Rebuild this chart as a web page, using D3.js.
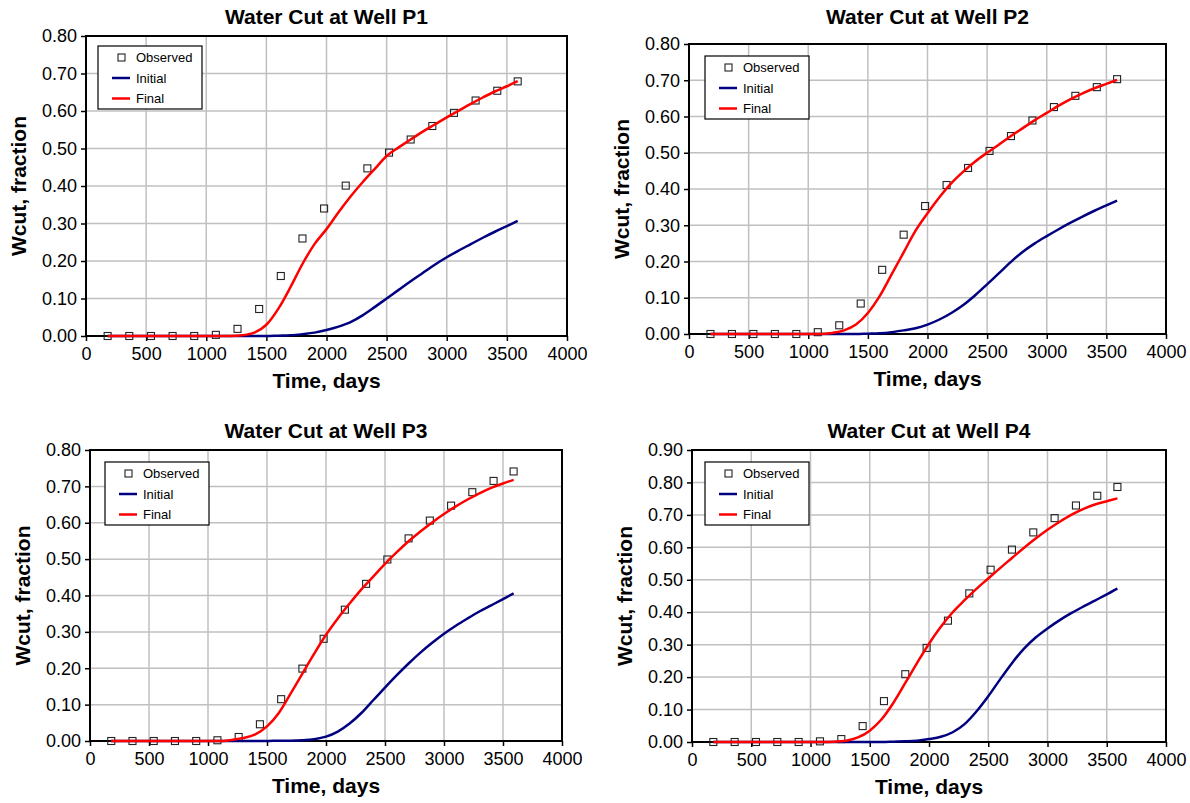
<!DOCTYPE html>
<html>
<head>
<meta charset="utf-8">
<script src="https://cdn.jsdelivr.net/npm/d3@7"></script>
<style>
  body { margin: 0; background: #fff; }
  svg { display: block; font-family: "Liberation Sans", Arial, sans-serif; }
</style>
</head>
<body>
<svg id="chart" width="1190" height="803"></svg>
<script>
// observed water cut, sampled every ~180 days
const obsDays = [180, 360, 540, 720, 900, 1080, 1260, 1440, 1620, 1800, 1980, 2160, 2340, 2520, 2700, 2880, 3060, 3240, 3420, 3590];
const obsP1 = [0, 0, 0, 0, 0, 0.003, 0.019, 0.072, 0.160, 0.260, 0.340, 0.401, 0.447, 0.489, 0.524, 0.560, 0.595, 0.628, 0.654, 0.679];
const obsP2 = [0, 0, 0, 0, 0, 0.005, 0.024, 0.084, 0.177, 0.274, 0.353, 0.411, 0.458, 0.505, 0.546, 0.589, 0.626, 0.657, 0.681, 0.703];
const obsP3 = [0, 0, 0, 0, 0, 0.002, 0.011, 0.046, 0.115, 0.199, 0.281, 0.361, 0.432, 0.499, 0.557, 0.606, 0.647, 0.684, 0.715, 0.741];
const obsP4 = [0, 0, 0, 0, 0, 0.002, 0.009, 0.049, 0.126, 0.209, 0.290, 0.374, 0.458, 0.531, 0.593, 0.646, 0.690, 0.729, 0.759, 0.786];

// simulated curves (initial model / final history-matched model)
const simDays = [180, 1000, 1100, 1200, 1300, 1400, 1500, 1600, 1700, 1800, 1900, 2000, 2100, 2200, 2300, 2400, 2500, 2600, 2700, 2800, 2900, 3000, 3100, 3200, 3300, 3400, 3500, 3590];
const initialP1 = [0, 0, 0, 0, 0, 0, 0, 0.001, 0.002, 0.005, 0.009, 0.016, 0.025, 0.037, 0.055, 0.077, 0.100, 0.123, 0.146, 0.168, 0.190, 0.210, 0.228, 0.245, 0.262, 0.278, 0.293, 0.307];
const finalP1 = [0, 0, 0, 0, 0.002, 0.009, 0.030, 0.073, 0.130, 0.192, 0.245, 0.285, 0.330, 0.372, 0.410, 0.445, 0.480, 0.503, 0.524, 0.545, 0.564, 0.583, 0.601, 0.619, 0.636, 0.652, 0.666, 0.680];
const initialP2 = [0, 0, 0, 0, 0, 0, 0.001, 0.002, 0.005, 0.010, 0.016, 0.026, 0.040, 0.058, 0.080, 0.107, 0.137, 0.168, 0.199, 0.227, 0.250, 0.270, 0.289, 0.307, 0.324, 0.340, 0.355, 0.368];
const finalP2 = [0, 0, 0, 0.003, 0.010, 0.026, 0.058, 0.105, 0.165, 0.225, 0.285, 0.333, 0.377, 0.416, 0.448, 0.476, 0.500, 0.523, 0.546, 0.568, 0.590, 0.610, 0.630, 0.648, 0.664, 0.678, 0.690, 0.701];
const initialP3 = [0, 0, 0, 0, 0, 0, 0, 0.001, 0.001, 0.002, 0.005, 0.012, 0.026, 0.048, 0.077, 0.112, 0.147, 0.181, 0.213, 0.243, 0.270, 0.295, 0.317, 0.337, 0.356, 0.373, 0.390, 0.406];
const finalP3 = [0, 0, 0, 0.003, 0.008, 0.018, 0.040, 0.077, 0.130, 0.185, 0.240, 0.292, 0.337, 0.378, 0.417, 0.452, 0.487, 0.519, 0.549, 0.576, 0.601, 0.624, 0.645, 0.664, 0.681, 0.696, 0.708, 0.718];
const initialP4 = [0, 0, 0, 0, 0, 0, 0, 0, 0.001, 0.002, 0.004, 0.009, 0.016, 0.030, 0.055, 0.094, 0.141, 0.193, 0.243, 0.287, 0.322, 0.350, 0.375, 0.397, 0.417, 0.436, 0.455, 0.473];
const finalP4 = [0, 0, 0, 0.001, 0.004, 0.014, 0.035, 0.070, 0.121, 0.182, 0.244, 0.303, 0.355, 0.400, 0.437, 0.472, 0.504, 0.536, 0.567, 0.598, 0.627, 0.654, 0.678, 0.700, 0.718, 0.732, 0.742, 0.751];

const wellNames = ['P1', 'P2', 'P3', 'P4'];
const xTicks = [0, 500, 1000, 1500, 2000, 2500, 3000, 3500, 4000];
const yTicks8 = [0, 0.1, 0.2, 0.3, 0.4, 0.5, 0.6, 0.7, 0.8];
const yTicks9 = [0, 0.1, 0.2, 0.3, 0.4, 0.5, 0.6, 0.7, 0.8, 0.9];
const legendLabels = ['Observed', 'Initial', 'Final'];

// layout of the four plot areas (pixels)
const panels = [
  { obs: obsP1, init: initialP1, fin: finalP1, yTicks: yTicks8, left: 86, right: 567, top: 36, bottom: 336, titleY: 24, lx: 98, ly: 46 },
  { obs: obsP2, init: initialP2, fin: finalP2, yTicks: yTicks8, left: 689, right: 1166, top: 44, bottom: 334, titleY: 24, lx: 705, ly: 56 },
  { obs: obsP3, init: initialP3, fin: finalP3, yTicks: yTicks8, left: 90, right: 562, top: 450, bottom: 741, titleY: 438, lx: 105, ly: 462 },
  { obs: obsP4, init: initialP4, fin: finalP4, yTicks: yTicks9, left: 692, right: 1166, top: 450, bottom: 742, titleY: 438, lx: 705, ly: 462 }
];

const svg = d3.select('#chart');
const gridColor = '#c0c0c0';
const initColor = '#000080';
const finalColor = '#ff0000';

panels.forEach((p, i) => {
  const g = svg.append('g');
  const x = d3.scaleLinear().domain([0, 4000]).range([p.left, p.right]);
  const y = d3.scaleLinear().domain([0, d3.max(p.yTicks)]).range([p.bottom, p.top]);

  // gridlines
  g.append('g').selectAll('line')
    .data(xTicks.slice(1, -1))
    .join('line')
    .attr('x1', d => x(d)).attr('x2', d => x(d))
    .attr('y1', p.top).attr('y2', p.bottom)
    .attr('stroke', gridColor).attr('stroke-width', 1.5);
  g.append('g').selectAll('line')
    .data(p.yTicks.slice(1, -1))
    .join('line')
    .attr('x1', p.left).attr('x2', p.right)
    .attr('y1', d => y(d)).attr('y2', d => y(d))
    .attr('stroke', gridColor).attr('stroke-width', 1.5);

  // axes
  const yAxis = d3.axisLeft(y).tickValues(p.yTicks).tickFormat(d3.format('.2f'))
    .tickSize(5).tickPadding(4).tickSizeOuter(0);
  const xAxis = d3.axisBottom(x).tickValues(xTicks).tickFormat(d3.format('d'))
    .tickSize(5).tickPadding(6).tickSizeOuter(0);

  const yAxisG = g.append('g').attr('transform', `translate(${p.left},0)`).call(yAxis);
  const xAxisG = g.append('g').attr('transform', `translate(0,${p.bottom})`).call(xAxis);
  [yAxisG, xAxisG].forEach(a => {
    a.select('.domain').remove();
    a.selectAll('line').attr('stroke', '#000').attr('stroke-width', 1.5);
    a.selectAll('text').attr('fill', '#000').style('font-size', '18px');
  });

  // frame
  g.append('rect')
    .attr('x', p.left).attr('y', p.top)
    .attr('width', p.right - p.left).attr('height', p.bottom - p.top)
    .attr('fill', 'none').attr('stroke', '#000').attr('stroke-width', 2);

  // observed markers
  g.append('g').selectAll('rect')
    .data(obsDays.map((d, k) => [d, p.obs[k]]))
    .join('rect')
    .attr('x', d => x(d[0]) - 3.5).attr('y', d => y(d[1]) - 3.5)
    .attr('width', 7).attr('height', 7)
    .attr('fill', 'none').attr('stroke', '#222').attr('stroke-width', 1.1);

  const line = d3.line()
    .x(d => x(d[0]))
    .y(d => y(d[1]))
    .curve(d3.curveMonotoneX);

  g.append('path')
    .datum(simDays.map((d, k) => [d, p.init[k]]))
    .attr('d', line)
    .attr('fill', 'none').attr('stroke', initColor).attr('stroke-width', 2.5);
  g.append('path')
    .datum(simDays.map((d, k) => [d, p.fin[k]]))
    .attr('d', line)
    .attr('fill', 'none').attr('stroke', finalColor).attr('stroke-width', 2.5);

  // titles
  const cx = (p.left + p.right) / 2;
  g.append('text')
    .attr('x', cx).attr('y', p.titleY)
    .attr('text-anchor', 'middle')
    .style('font-size', '21px').style('font-weight', 'bold')
    .text(`Water Cut at Well ${wellNames[i]}`);
  g.append('text')
    .attr('x', cx).attr('y', p.bottom + 52)
    .attr('text-anchor', 'middle')
    .style('font-size', '21px').style('font-weight', 'bold')
    .text('Time, days');
  g.append('text')
    .attr('transform', `translate(${p.left - 60},${(p.top + p.bottom) / 2}) rotate(-90)`)
    .attr('text-anchor', 'middle')
    .style('font-size', '21px').style('font-weight', 'bold')
    .text('Wcut, fraction');

  // legend
  const lg = g.append('g').attr('transform', `translate(${p.lx},${p.ly})`);
  lg.append('rect')
    .attr('width', 104).attr('height', 63)
    .attr('fill', '#fff').attr('stroke', '#000').attr('stroke-width', 1.2);
  legendLabels.forEach((lab, k) => {
    const ry = 11.5 + k * 20.5;
    if (k === 0) {
      lg.append('rect')
        .attr('x', 20).attr('y', ry - 3.5).attr('width', 7).attr('height', 7)
        .attr('fill', 'none').attr('stroke', '#222').attr('stroke-width', 1.1);
    } else {
      lg.append('line')
        .attr('x1', 14).attr('x2', 32).attr('y1', ry).attr('y2', ry)
        .attr('stroke', k === 1 ? initColor : finalColor).attr('stroke-width', 2.5);
    }
    lg.append('text')
      .attr('x', 38).attr('y', ry + 4.5)
      .style('font-size', '13px')
      .text(lab);
  });
});
</script>
</body>
</html>
